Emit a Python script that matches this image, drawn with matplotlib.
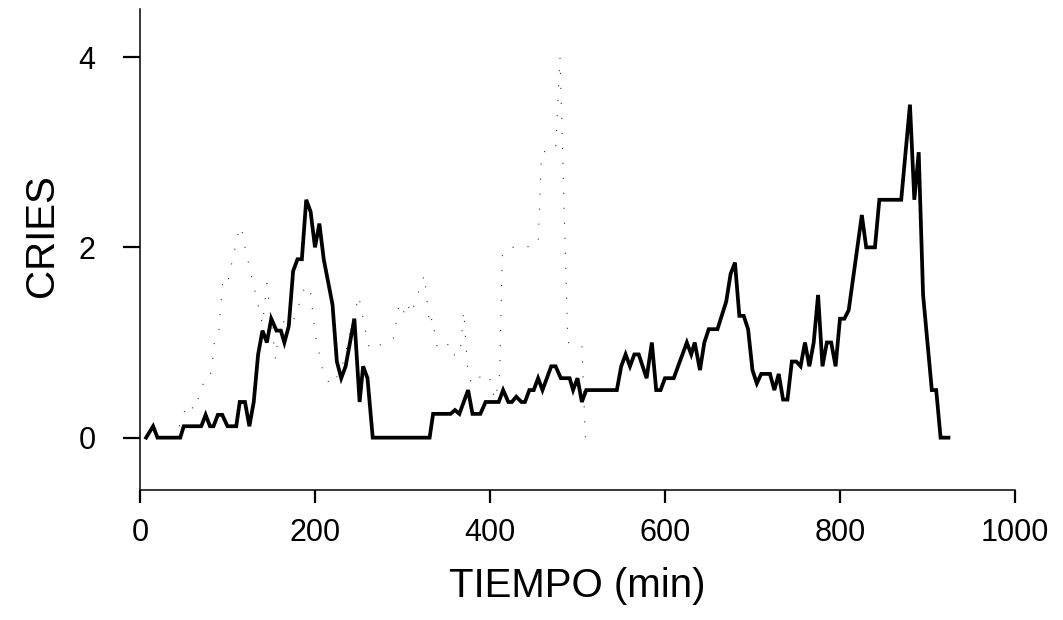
import matplotlib.pyplot as plt

plt.rcParams['font.family'] = ['Liberation Sans', 'DejaVu Sans']

# solid series (minutes, cries)
t_solid = [7, 15, 20, 46, 50, 70, 75, 80, 84, 89, 94, 100, 110, 114, 120, 125, 130,
           135, 140, 145, 150, 156, 161, 165, 170, 175, 180, 185, 190, 195, 200, 205,
           210, 220, 225, 230, 235, 245, 251, 255, 260, 266, 331, 335, 355, 360, 365,
           375, 380, 389, 395, 410, 415, 421, 425, 430, 436, 440, 445, 450, 455, 460,
           470, 475, 481, 491, 495, 500, 505, 510, 545, 550, 555, 560, 565, 570, 579,
           585, 590, 595, 600, 610, 615, 625, 630, 634, 640, 645, 650, 660, 670, 675,
           680, 685, 690, 695, 700, 705, 710, 720, 725, 730, 735, 740, 745, 750, 755,
           760, 765, 770, 775, 780, 785, 790, 795, 800, 805, 810, 825, 830, 840, 845,
           870, 880, 885, 890, 895, 905, 910, 915, 924]
cries_solid = [0, 0.12, 0, 0, 0.12, 0.12, 0.24, 0.12, 0.12, 0.24, 0.24, 0.12, 0.12,
               0.375, 0.375, 0.12, 0.375, 0.875, 1.125, 1.0, 1.25, 1.125, 1.125, 1.0,
               1.17, 1.75, 1.875, 1.875, 2.5, 2.375, 2.0, 2.25, 1.875, 1.4, 0.8, 0.625,
               0.75, 1.25, 0.375, 0.75, 0.625, 0, 0, 0.25, 0.25, 0.29, 0.25, 0.5, 0.25,
               0.25, 0.375, 0.375, 0.5, 0.375, 0.375, 0.43, 0.375, 0.375, 0.5, 0.5,
               0.625, 0.5, 0.75, 0.75, 0.625, 0.625, 0.5, 0.625, 0.375, 0.5, 0.5, 0.75,
               0.875, 0.75, 0.875, 0.875, 0.625, 1.0, 0.5, 0.5, 0.625, 0.625, 0.75, 1.0,
               0.875, 1.0, 0.71, 1.0, 1.14, 1.14, 1.43, 1.72, 1.84, 1.28, 1.28, 1.14,
               0.71, 0.57, 0.67, 0.67, 0.5, 0.67, 0.4, 0.4, 0.8, 0.8, 0.75, 1.0, 0.75,
               1.0, 1.5, 0.75, 1.0, 1.0, 0.75, 1.25, 1.25, 1.34, 2.34, 2.0, 2.0, 2.5,
               2.5, 3.5, 2.5, 3.0, 1.5, 0.5, 0.5, 0, 0]

# dotted series
t_dot = [45, 50, 56, 62, 67, 72, 78, 82, 85, 90, 91, 95, 101, 114, 117, 120, 140, 145,
         155, 160, 174, 189, 195, 200, 209, 217, 222, 233, 240, 250, 261, 267, 278, 290,
         296, 301, 305, 310, 315, 325, 331, 334, 340, 355, 360, 366, 370, 375, 380, 384,
         398, 402, 405, 409, 411, 414, 421, 441, 455, 459, 475, 480, 489, 505, 509]
cries_dot = [0.12, 0.26, 0.36, 0.29, 0.42, 0.56, 0.58, 0.72, 1.0, 1.1, 1.23, 1.7, 1.67,
             2.22, 2.15, 2.0, 1.19, 1.62, 0.82, 1.23, 1.19, 1.6, 1.52, 1.1, 0.7, 0.56,
             0.57, 0.81, 1.1, 1.49, 0.97, 0.92, 1.0, 1.05, 1.4, 1.31, 1.42, 1.3, 1.44,
             1.71, 1.18, 1.26, 0.93, 0.99, 0.85, 0.92, 1.33, 0.65, 0.56, 0.62, 0.67,
             0.55, 0.4, 0.54, 0.67, 1.91, 2.0, 2.0, 2.04, 3.0, 3.03, 4.0, 1.0, 0.97, 0.0]

x_ticks = [0, 200, 400, 600, 800, 1000]
y_ticks = [0, 2, 4]

fig = plt.figure(figsize=(10.63, 6.2), dpi=100)
ax = fig.add_axes([0.1317, 0.2097, 0.8231, 0.775])

ax.plot(t_dot, cries_dot, color='#333333', lw=0.8, linestyle=(0, (1, 12.5)))
ax.plot(t_solid, cries_solid, color='black', lw=2.7, solid_joinstyle='miter')

ax.set_xlim(0, 1000)
ax.set_ylim(-0.55, 4.5)
ax.set_xticks(x_ticks)
ax.set_yticks(y_ticks)
ax.spines['top'].set_visible(False)
ax.spines['right'].set_visible(False)
ax.spines['left'].set_linewidth(1.1)
ax.spines['bottom'].set_linewidth(1.1)
ax.tick_params(axis='y', length=12, width=1.6, labelsize=22, pad=20)
ax.tick_params(axis='x', length=9.5, width=1.6, labelsize=22, pad=10.5)

ax.set_xlabel('TIEMPO (min)', fontsize=29, labelpad=14)
ax.set_ylabel('CRIES', fontsize=29)
ax.yaxis.set_label_coords(-0.09, 0.53)

fig.savefig('out.png', dpi=100)
